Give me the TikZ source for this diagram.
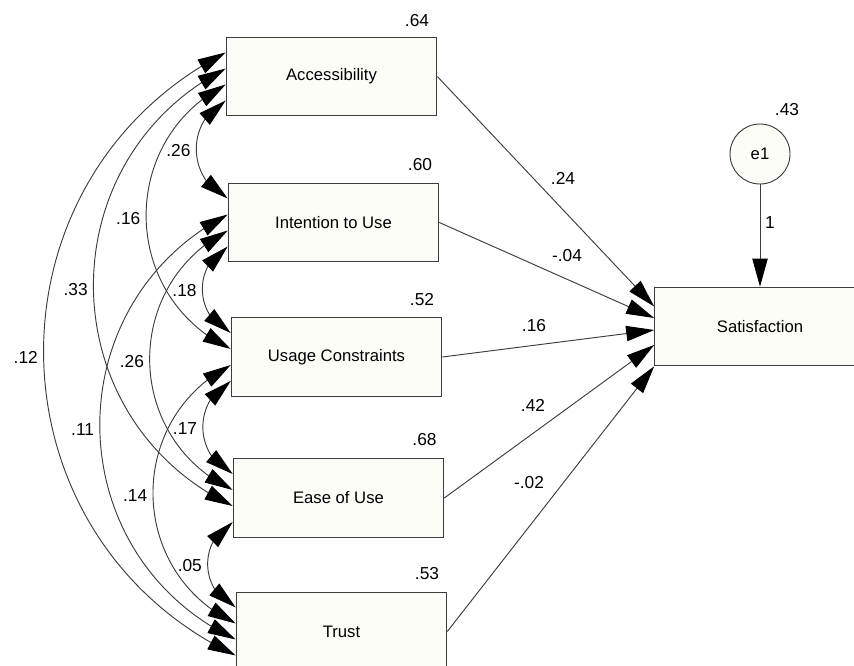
\documentclass[tikz,border=0pt]{standalone}
\usepackage{fontspec}
\setmainfont{Liberation Sans}
\usetikzlibrary{arrows.meta,bending}
\definecolor{boxfill}{RGB}{253,253,248}
\definecolor{linegray}{RGB}{60,60,60}

\begin{document}
\begin{tikzpicture}[x=0.75pt, y=-0.75pt,
  >={Triangle[length=21pt,width=11.5pt,color=black]},
  box/.style={draw=linegray, fill=boxfill, line width=0.7pt,
    minimum width=158pt, minimum height=59pt, inner sep=0pt,
    font=\fontsize{12.5}{15}\selectfont},
  errvar/.style={circle, draw=linegray, fill=boxfill, line width=0.7pt,
    minimum size=45pt, inner sep=0pt, font=\fontsize{12.5}{15}\selectfont},
  num/.style={inner sep=0pt, font=\fontsize{13}{15}\selectfont},
  effect/.style={->, draw=linegray, line width=0.7pt},
  cov/.style={<->, draw=linegray, line width=0.7pt, bend right=63.6, looseness=1.18}]
  \useasboundingbox (0,0) rectangle (854,665);
  \clip (0,0) rectangle (854,665);

  % observed variables
  \node[box] (acc) at (331.5,76.5) {Accessibility};
  \node[box] (intent) at (333.5,222.5) {Intention to Use};
  \node[box] (usg) at (336.5,357) {Usage Constraints};
  \node[box] (ease) at (338.5,498) {Ease of Use};
  \node[box] (trust) at (341.5,631.5) {Trust};
  \node[box] (sat) at (760,326.5) {Satisfaction};
  \node[errvar] (e1) at (760,154) {e1};

  % squared multiple correlations
  \node[num] (r-acc) at (417,21) {.64};
  \node[num] (r-intent) at (420,165) {.60};
  \node[num] (r-usg) at (422,300) {.52};
  \node[num] (r-ease) at (424.5,440) {.68};
  \node[num] (r-trust) at (427,574) {.53};
  \node[num] (r-e1) at (787,110) {.43};

  % regression weights
  \draw[effect] (acc.east) -- ([shift={(0,-20)}]sat.west);
  \draw[effect] (intent.east) -- ([shift={(0,-8.5)}]sat.west);
  \draw[effect] (usg.east) -- ([shift={(0,3.5)}]sat.west);
  \draw[effect] (ease.east) -- ([shift={(0,18.5)}]sat.west);
  \draw[effect] (trust.east) -- (sat.south west);
  \draw[effect] (e1) -- (sat);
  \node[num] (w-acc) at (563,178) {.24};
  \node[num] (w-intent) at (567,256) {-.04};
  \node[num] (w-usg) at (534,326) {.16};
  \node[num] (w-ease) at (533,405) {.42};
  \node[num] (w-trust) at (529,483) {-.02};
  \node[num] (w-e1) at (770,223) {1};

  % covariances
  \draw[cov] ([shift={(0,-24)}]acc.west) to node[num, left=4pt] (c-acc-trust) {.12} ([shift={(0,24)}]trust.west);
  \draw[cov] ([shift={(0,-8)}]acc.west) to node[num, left=4pt] (c-acc-ease) {.33} ([shift={(0,8)}]ease.west);
  \draw[cov] ([shift={(0,8)}]acc.west) to node[num, left=4pt] (c-acc-usg) {.16} ([shift={(0,-8)}]usg.west);
  \draw[cov] ([shift={(0,24)}]acc.west) to node[num, left=4pt] (c-acc-intent) {.26} ([shift={(0,-24)}]intent.west);
  \draw[cov] ([shift={(0,-8)}]intent.west) to node[num, left=4pt] (c-intent-trust) {.11} ([shift={(0,8)}]trust.west);
  \draw[cov] ([shift={(0,8)}]intent.west) to node[num, left=4pt] (c-intent-ease) {.26} ([shift={(0,-8)}]ease.west);
  \draw[cov] ([shift={(0,24)}]intent.west) to node[num, left=4pt] (c-intent-usg) {.18} ([shift={(0,-24)}]usg.west);
  \draw[cov] ([shift={(0,8)}]usg.west) to node[num, left=4pt] (c-usg-trust) {.14} ([shift={(0,-8)}]trust.west);
  \draw[cov] ([shift={(0,24)}]usg.west) to node[num, left=4pt] (c-usg-ease) {.17} ([shift={(0,-24)}]ease.west);
  \draw[cov] ([shift={(0,24)}]ease.west) to node[num, left=4pt] (c-ease-trust) {.05} ([shift={(0,-24)}]trust.west);
\end{tikzpicture}
\end{document}
